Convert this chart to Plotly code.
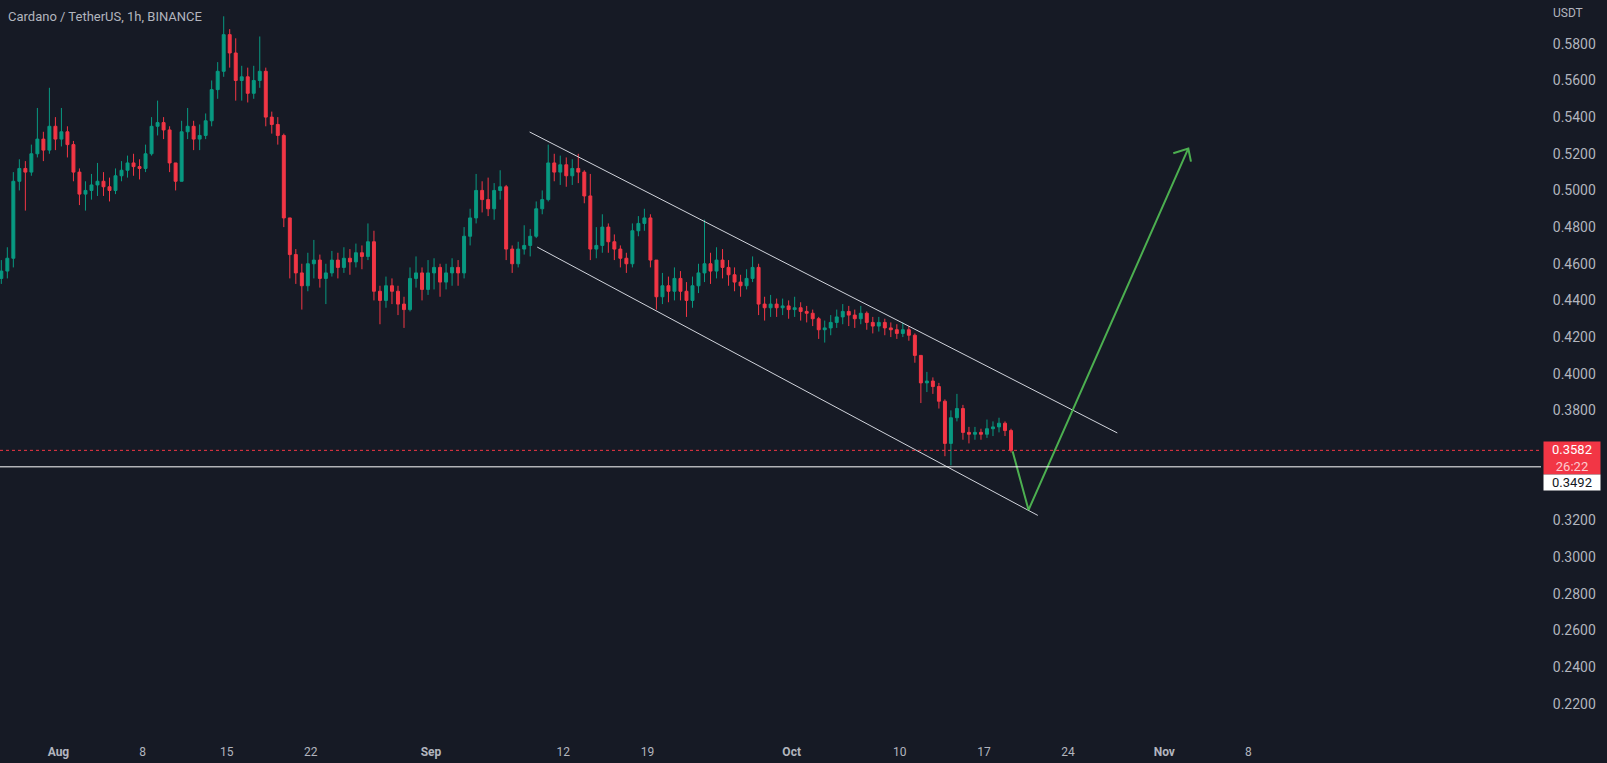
import pandas as pd
import plotly.graph_objects as go

# ---------------- data (12h candles) ----------------
first_open = 0.452
closes = [
    0.456, 0.463, 0.505, 0.512, 0.510, 0.520, 0.528, 0.522, 0.535, 0.528,
    0.532, 0.525, 0.510, 0.498, 0.500, 0.503, 0.505, 0.502, 0.500, 0.508,
    0.511, 0.515, 0.513, 0.512, 0.520, 0.535, 0.537, 0.533, 0.515, 0.505,
    0.532, 0.535, 0.528, 0.530, 0.538, 0.555, 0.565, 0.585, 0.575, 0.560,
    0.562, 0.553, 0.560, 0.565, 0.540, 0.536, 0.530, 0.485, 0.465, 0.455,
    0.448, 0.460, 0.462, 0.452, 0.455, 0.462, 0.458, 0.463, 0.461, 0.466,
    0.464, 0.472, 0.445, 0.440, 0.448, 0.445, 0.438, 0.435, 0.452, 0.455,
    0.446, 0.455, 0.458, 0.450, 0.455, 0.458, 0.455, 0.475, 0.485, 0.500,
    0.495, 0.490, 0.500, 0.502, 0.468, 0.460, 0.468, 0.470, 0.475, 0.490,
    0.495, 0.515, 0.510, 0.514, 0.508, 0.512, 0.510, 0.497, 0.468, 0.470,
    0.480, 0.472, 0.468, 0.463, 0.460, 0.478, 0.482, 0.485, 0.462, 0.442,
    0.448, 0.445, 0.452, 0.445, 0.440, 0.448, 0.455, 0.460, 0.456, 0.462,
    0.458, 0.454, 0.450, 0.448, 0.452, 0.458, 0.438, 0.436, 0.438, 0.436,
    0.437, 0.435, 0.436, 0.434, 0.433, 0.430, 0.424, 0.425, 0.428, 0.431,
    0.434, 0.432, 0.430, 0.433, 0.428, 0.426, 0.428, 0.425, 0.424, 0.422,
    0.424, 0.421, 0.410, 0.395, 0.396, 0.393, 0.385, 0.362, 0.376, 0.381,
    0.368, 0.367, 0.368, 0.367, 0.370, 0.371, 0.373, 0.369, 0.3582,
]
highs = [
    0.462, 0.469, 0.510, 0.517, 0.516, 0.525, 0.545, 0.532, 0.556, 0.540,
    0.545, 0.535, 0.527, 0.512, 0.505, 0.509, 0.515, 0.510, 0.507, 0.512,
    0.516, 0.519, 0.520, 0.517, 0.525, 0.540, 0.549, 0.540, 0.535, 0.515,
    0.538, 0.545, 0.538, 0.536, 0.542, 0.560, 0.570, 0.595, 0.588, 0.583,
    0.568, 0.567, 0.568, 0.584, 0.567, 0.543, 0.540, 0.531, 0.485, 0.468,
    0.460, 0.466, 0.473, 0.465, 0.460, 0.467, 0.466, 0.469, 0.468, 0.471,
    0.470, 0.482, 0.478, 0.448, 0.453, 0.452, 0.448, 0.442, 0.458, 0.464,
    0.458, 0.462, 0.463, 0.460, 0.460, 0.463, 0.462, 0.480, 0.490, 0.509,
    0.505, 0.507, 0.504, 0.511, 0.503, 0.470, 0.472, 0.481, 0.479, 0.494,
    0.500, 0.525, 0.520, 0.519, 0.518, 0.517, 0.520, 0.511, 0.509, 0.480,
    0.487, 0.482, 0.476, 0.470, 0.466, 0.482, 0.486, 0.490, 0.487, 0.462,
    0.455, 0.453, 0.458, 0.456, 0.450, 0.453, 0.460, 0.484, 0.466, 0.469,
    0.468, 0.462, 0.458, 0.454, 0.457, 0.464, 0.460, 0.442, 0.443, 0.441,
    0.441, 0.440, 0.442, 0.439, 0.437, 0.435, 0.431, 0.429, 0.432, 0.435,
    0.438, 0.437, 0.435, 0.437, 0.434, 0.431, 0.431, 0.430, 0.428, 0.427,
    0.428, 0.426, 0.422, 0.410, 0.401, 0.398, 0.395, 0.386, 0.380, 0.389,
    0.383, 0.371, 0.371, 0.370, 0.375, 0.374, 0.376, 0.374, 0.370,
]
lows = [
    0.449, 0.452, 0.458, 0.500, 0.489, 0.508, 0.518, 0.516, 0.520, 0.522,
    0.524, 0.518, 0.505, 0.492, 0.489, 0.495, 0.497, 0.497, 0.494, 0.498,
    0.505, 0.507, 0.508, 0.506, 0.510, 0.519, 0.530, 0.528, 0.510, 0.500,
    0.505, 0.528, 0.522, 0.522, 0.528, 0.535, 0.550, 0.562, 0.567, 0.549,
    0.549, 0.548, 0.550, 0.556, 0.535, 0.531, 0.525, 0.480, 0.452, 0.449,
    0.435, 0.445, 0.452, 0.447, 0.438, 0.453, 0.452, 0.455, 0.454, 0.458,
    0.457, 0.462, 0.440, 0.427, 0.436, 0.438, 0.432, 0.425, 0.434, 0.447,
    0.440, 0.443, 0.446, 0.442, 0.446, 0.448, 0.448, 0.452, 0.470, 0.482,
    0.488, 0.486, 0.484, 0.495, 0.462, 0.455, 0.458, 0.465, 0.464, 0.474,
    0.487, 0.494, 0.505, 0.503, 0.502, 0.503, 0.504, 0.493, 0.462, 0.463,
    0.466, 0.466, 0.462, 0.458, 0.455, 0.458, 0.475, 0.478, 0.458, 0.435,
    0.438, 0.439, 0.440, 0.440, 0.431, 0.436, 0.444, 0.450, 0.449, 0.452,
    0.452, 0.448, 0.445, 0.442, 0.446, 0.450, 0.432, 0.429, 0.431, 0.431,
    0.432, 0.430, 0.431, 0.429, 0.428, 0.426, 0.419, 0.417, 0.421, 0.425,
    0.427, 0.426, 0.425, 0.427, 0.424, 0.422, 0.423, 0.421, 0.420, 0.419,
    0.420, 0.418, 0.406, 0.384, 0.390, 0.389, 0.381, 0.355, 0.350, 0.374,
    0.364, 0.362, 0.364, 0.364, 0.365, 0.366, 0.368, 0.366, 0.357,
]
opens = [first_open] + closes[:-1]
candle_times = pd.date_range("2022-07-27 06:00", periods=len(closes), freq="12h")

# drawings
upper_channel = [("2022-09-09 04:48", 0.5319), ("2022-10-28 02:10", 0.3677)]
lower_channel = [("2022-09-09 20:00", 0.4691), ("2022-10-21 11:30", 0.3227)]
forecast_path = [("2022-10-19 09:07", 0.3577), ("2022-10-20 17:00", 0.3257), ("2022-11-03 00:00", 0.5229)]
arrow_wings = [("2022-11-01 18:00", 0.5203), ("2022-11-03 00:00", 0.5229), ("2022-11-03 05:17", 0.5157)]
support_level = 0.3492
last_price = 0.3582
countdown = "26:22"

price_ticks = [0.58, 0.56, 0.54, 0.52, 0.50, 0.48, 0.46, 0.44, 0.42, 0.40, 0.38,
               0.32, 0.30, 0.28, 0.26, 0.24, 0.22]
time_ticks = ["2022-08-01", "2022-08-08", "2022-08-15", "2022-08-22", "2022-09-01",
              "2022-09-12", "2022-09-19", "2022-10-01", "2022-10-10", "2022-10-17",
              "2022-10-24", "2022-11-01", "2022-11-08"]
time_labels = ["<b>Aug</b>", "8", "15", "22", "<b>Sep</b>", "12", "19", "<b>Oct</b>",
               "10", "17", "24", "<b>Nov</b>", "8"]

# ---------------- style ----------------
BG = "#161A25"
UP = "#089981"
DOWN = "#F23645"
TXT = "#B2B5BE"
GREEN = "#4CAF50"
FONT = "Roboto"

fig = go.Figure()
fig.add_trace(go.Candlestick(
    x=candle_times, open=opens, high=highs, low=lows, close=closes,
    increasing=dict(line=dict(color=UP, width=1), fillcolor=UP),
    decreasing=dict(line=dict(color=DOWN, width=1), fillcolor=DOWN),
    showlegend=False, hoverinfo="skip",
))

for seg in (upper_channel, lower_channel):
    fig.add_trace(go.Scatter(
        x=[p[0] for p in seg], y=[p[1] for p in seg], mode="lines",
        line=dict(color="#D1D4DC", width=1), showlegend=False, hoverinfo="skip"))

for seg in (forecast_path, arrow_wings):
    fig.add_trace(go.Scatter(
        x=[p[0] for p in seg], y=[p[1] for p in seg], mode="lines",
        line=dict(color=GREEN, width=2), showlegend=False, hoverinfo="skip"))

fig.add_hline(y=support_level, line=dict(color="#FFFFFF", width=1))
fig.add_hline(y=last_price, line=dict(color=DOWN, width=1, dash="dot"))

fig.add_annotation(
    xref="paper", x=1, xanchor="left", xshift=2,
    yref="y", y=last_price, yanchor="top", yshift=9,
    text=f"{last_price:.4f}<br><span style='color:rgba(255,255,255,0.75)'>{countdown}</span>",
    showarrow=False, bgcolor=DOWN, font=dict(color="#FFFFFF", size=13, family=FONT),
    width=56, borderpad=0, align="center")
fig.add_annotation(
    xref="paper", x=1, xanchor="left", xshift=2,
    yref="y", y=support_level, yanchor="top", yshift=-7,
    text=f"{support_level:.4f}", showarrow=False, bgcolor="#FFFFFF",
    font=dict(color="#131722", size=13, family=FONT), width=56, borderpad=0, align="center")
fig.add_annotation(
    xref="paper", x=1, xanchor="left", xshift=10,
    yref="paper", y=1, yanchor="middle", yshift=-13,
    text="USDT", showarrow=False, font=dict(color=TXT, size=12, family=FONT))
fig.add_annotation(
    xref="paper", x=0, xanchor="left", xshift=6,
    yref="paper", y=1, yanchor="middle", yshift=-16,
    text="Cardano / TetherUS, 1h, BINANCE", showarrow=False,
    font=dict(color=TXT, size=13, family=FONT))

fig.update_layout(
    width=1607, height=763,
    margin=dict(l=0, r=66, t=0, b=28),
    paper_bgcolor=BG, plot_bgcolor=BG,
    font=dict(family=FONT, color=TXT, size=12),
    xaxis=dict(
        range=["2022-07-27 03:22", "2022-12-02 08:10"],
        rangeslider=dict(visible=False),
        showgrid=False, zeroline=False, showline=False,
        tickvals=time_ticks, ticktext=time_labels,
        ticks="outside", ticklen=6, tickcolor="rgba(0,0,0,0)",
        tickfont=dict(color=TXT, size=12, family=FONT),
    ),
    yaxis=dict(
        side="right", range=[0.2029, 0.6039],
        showgrid=False, zeroline=False, showline=False,
        tickvals=price_ticks, ticktext=[f"{v:.4f}" for v in price_ticks],
        ticks="outside", ticklen=8, tickcolor="rgba(0,0,0,0)",
        tickfont=dict(color=TXT, size=14, family=FONT),
    ),
    hovermode=False,
)

fig.write_html("out.html", config=dict(displayModeBar=False))
